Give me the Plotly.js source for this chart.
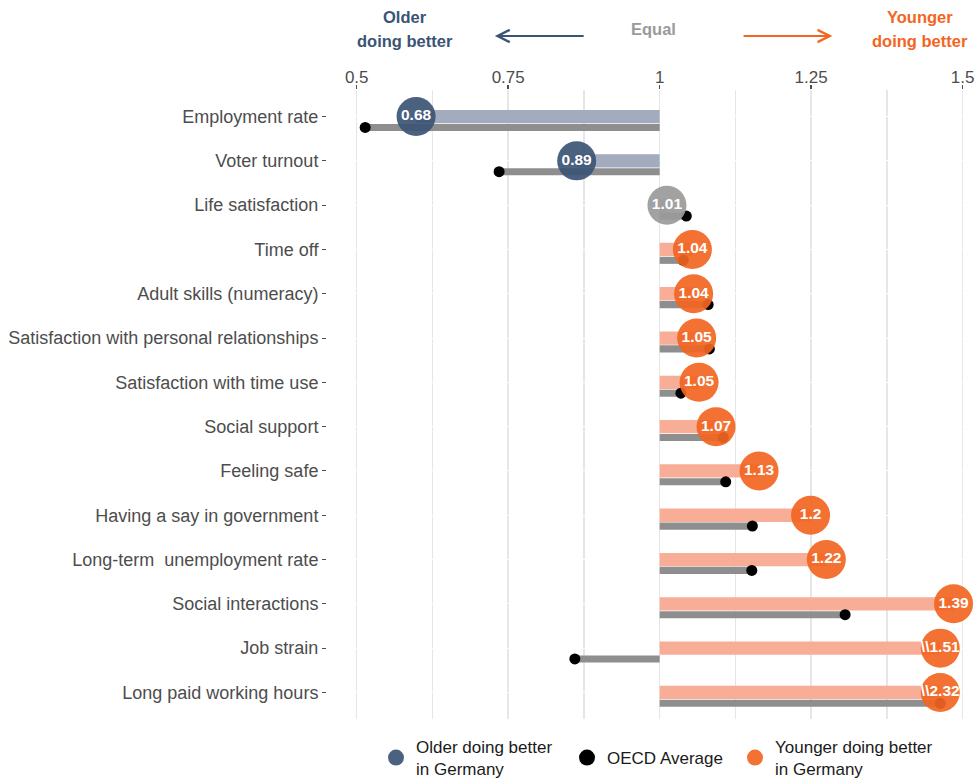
<!DOCTYPE html>
<html>
<head>
<meta charset="utf-8">
<script src="https://cdn.plot.ly/plotly-3.0.1.min.js"></script>
<style>html,body{margin:0;padding:0;background:#fff;}#chart{width:976px;height:780px;}</style>
</head>
<body>
<div id="chart"></div>
<script>
// Categories (top to bottom)
const categories = [
  "Employment rate",
  "Voter turnout",
  "Life satisfaction",
  "Time off",
  "Adult skills (numeracy)",
  "Satisfaction with personal relationships",
  "Satisfaction with time use",
  "Social support",
  "Feeling safe",
  "Having a say in government",
  "Long-term  unemployment rate",
  "Social interactions",
  "Job strain",
  "Long paid working hours"
];
// Germany: plotted position and displayed label
const germanyPos = [0.598, 0.863, 1.012, 1.054, 1.056, 1.061, 1.065, 1.093, 1.164, 1.249, 1.275, 1.485, 1.463, 1.463];
const germanyLabel = ["0.68", "0.89", "1.01", "1.04", "1.04", "1.05", "1.05", "1.07", "1.13", "1.2", "1.22", "1.39", "\\\\1.51", "\\\\2.32"];
const group = ["older", "older", "equal", "younger", "younger", "younger", "younger", "younger", "younger", "younger", "younger", "younger", "younger", "younger"];
// OECD average position
const oecdPos = [0.514, 0.735, 1.044, 1.039, 1.080, 1.082, 1.035, 1.105, 1.109, 1.153, 1.152, 1.306, 0.860, 1.463];
const xTickVals = [0.5, 0.75, 1, 1.25, 1.5];
const xTickText = ["0.5", "0.75", "1", "1.25", "1.5"];

const FONT = "Liberation Sans, Arial, sans-serif";
const colCircle = {older: "#3b5475", equal: "#9a9a9a", younger: "#f26522"};
const colBar = {older: "#a2acbe", equal: "#c8c8c8", younger: "#f8ad96"};
const legendName = {older: "Older doing better<br>in Germany", younger: "Younger doing better<br>in Germany"};
const legendId = {older: "legend", younger: "legend3"};

const idx = categories.map((_, i) => i);
const OFF = 0.245;

const traces = [];
// Germany bars
traces.push({
  type: "bar", orientation: "h",
  y: idx, x: germanyPos.map(v => v - 1), base: idx.map(() => 1),
  width: 0.30,
  marker: {color: group.map(g => colBar[g]), line: {width: 0}},
  showlegend: false, hoverinfo: "skip"
});
// OECD bars
traces.push({
  type: "bar", orientation: "h",
  y: idx.map(i => i + OFF), x: oecdPos.map(v => v - 1), base: idx.map(() => 1),
  width: 0.16,
  marker: {color: "#8e8e8e", line: {width: 0}},
  showlegend: false, hoverinfo: "skip"
});
// OECD dots
traces.push({
  type: "scatter", mode: "markers",
  name: "OECD Average",
  y: idx.map(i => i + OFF), x: oecdPos,
  marker: {color: "#000000", size: 11},
  showlegend: false
});
// legend entry for OECD (legend-only, no data)
traces.push({
  type: "scatter", mode: "markers",
  name: "OECD Average",
  x: [null], y: [null],
  marker: {color: "#000000", size: 16},
  legend: "legend2"
});
// Germany circles by group
["older", "equal", "younger"].forEach((g) => {
  const sel = idx.filter(i => group[i] === g);
  const t = {
    type: "scatter", mode: "markers+text",
    name: legendName[g] || "Equal",
    showlegend: g !== "equal",
    y: sel, x: sel.map(i => germanyPos[i]),
    text: sel.map(i => germanyLabel[i]),
    textposition: "middle center",
    textfont: {color: "#ffffff", size: 15.5, family: FONT, weight: "bold"},
    marker: {color: colCircle[g], size: 39, opacity: 0.92},
  };
  if (legendId[g]) t.legend = legendId[g];
  traces.push(t);
});

function py(px) { return (718.6 - px) / 628.6; }
const hf = (c) => ({size: 16.5, color: c, family: FONT, weight: "bold"});
const legFont = {size: 17, color: "#1a1a1a", family: FONT};
const mkLegend = (xpx) => ({
  orientation: "h", xref: "container", x: xpx / 976, xanchor: "left",
  yref: "container", y: 22 / 780, yanchor: "middle",
  font: legFont, bgcolor: "rgba(0,0,0,0)"
});
const layout = {
  width: 976, height: 780,
  margin: {l: 327, r: 0, t: 90, b: 61.4, pad: 0},
  paper_bgcolor: "#ffffff", plot_bgcolor: "#ffffff",
  barmode: "overlay",
  font: {family: FONT, color: "#4d4d4d"},
  xaxis: {
    side: "top", range: [0.451, 1.522],
    tickvals: xTickVals, ticktext: xTickText,
    tickfont: {size: 17, color: "#4d4d4d"},
    ticks: "outside", ticklen: 4, tickwidth: 1.5, tickcolor: "#4d4d4d",
    ticklabelstandoff: -5,
    showgrid: true, gridcolor: "#e6e6e6", gridwidth: 1.5,
    minor: {tick0: 0.5, dtick: 0.125, showgrid: true, gridcolor: "#e6e6e6", gridwidth: 1.5},
    zeroline: false, showline: false, fixedrange: true
  },
  yaxis: {
    range: [13.6, -0.6],
    tickvals: idx, ticktext: categories,
    tickfont: {size: 18, color: "#4d4d4d"},
    ticks: "outside", ticklen: 4, tickwidth: 1, tickcolor: "#4d4d4d",
    showgrid: true, gridcolor: "#ffffff", gridwidth: 1,
    zeroline: false, showline: false, fixedrange: true
  },
  legend: mkLegend(376),
  legend2: mkLegend(567),
  legend3: mkLegend(735),
  annotations: [
    {xref: "x", yref: "paper", x: 0.58, y: py(17), text: "Older", showarrow: false, font: hf("#3b5475"), yanchor: "middle"},
    {xref: "x", yref: "paper", x: 0.58, y: py(41), text: "doing better", showarrow: false, font: hf("#3b5475"), yanchor: "middle"},
    {xref: "x", yref: "paper", x: 0.989, y: py(29), text: "Equal", showarrow: false, font: hf("#9a9a9a"), yanchor: "middle"},
    {xref: "x", yref: "paper", x: 1.43, y: py(17), text: "Younger", showarrow: false, font: hf("#f26522"), yanchor: "middle"},
    {xref: "x", yref: "paper", x: 1.43, y: py(41), text: "doing better", showarrow: false, font: hf("#f26522"), yanchor: "middle"},
    {xref: "x", yref: "paper", x: 0.728, y: py(36), axref: "x", ayref: "pixel", ax: 0.877, ay: 0,
     text: "", showarrow: true, arrowhead: 5, arrowsize: 1.2, arrowwidth: 2, arrowcolor: "#3b5475"},
    {xref: "x", yref: "paper", x: 1.285, y: py(36), axref: "x", ayref: "pixel", ax: 1.136, ay: 0,
     text: "", showarrow: true, arrowhead: 5, arrowsize: 1.2, arrowwidth: 2, arrowcolor: "#f26522"}
  ],
  showlegend: true
};

Plotly.newPlot("chart", traces, layout, {displayModeBar: false, staticPlot: true});
</script>
</body>
</html>
